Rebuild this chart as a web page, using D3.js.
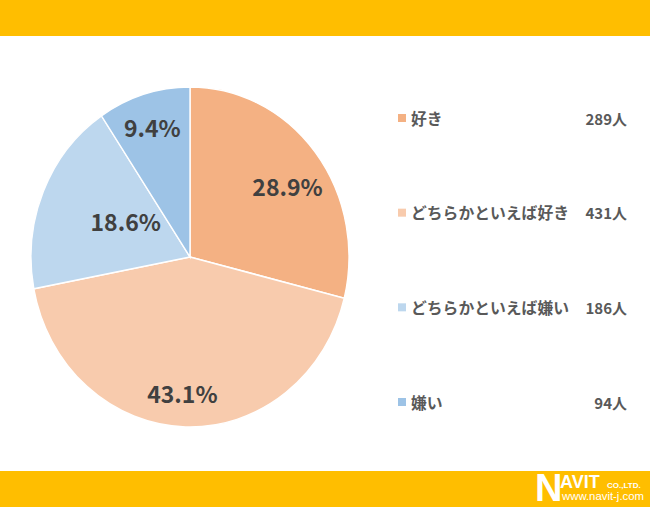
<!DOCTYPE html>
<html><head><meta charset="utf-8">
<script src="https://cdn.jsdelivr.net/npm/d3@7"></script>
<style>body{margin:0;background:#fff;}svg{display:block;}</style>
</head><body>
<script>
const categories = ["好き","どちらかといえば好き","どちらかといえば嫌い","嫌い"];
const percents = [28.9, 43.1, 18.6, 9.4];
const counts = [289, 431, 186, 94];
const colors = ["#F4B183","#F8CBAD","#BDD7EE","#9DC3E6"];
// label placement (fraction of radius, angle shift in degrees)
const labelRadius = [0.742, 0.80, 0.457, 0.80];
const labelShift = [3.7, 1.8, 5.1, -0.3];

const W = 650, H = 509;
const svg = d3.select("body").append("svg").attr("width", W).attr("height", H);
const font = "'Noto Sans CJK JP','Noto Sans',sans-serif";

// banners
svg.append("rect").attr("x",0).attr("y",0).attr("width",W).attr("height",36).attr("fill","#FFBE00");
svg.append("rect").attr("x",0).attr("y",471).attr("width",W).attr("height",36).attr("fill","#FFBE00");

// pie (slightly elliptical, like the reference)
const cx = 190, cy = 257, rx = 159, ry = 170;
const pie = d3.pie().sort(null).value(d => d)(percents);
const arc = d3.arc().innerRadius(0).outerRadius(ry);
const g = svg.append("g").attr("transform", `translate(${cx},${cy}) scale(${rx/ry},1)`);
g.selectAll("path").data(pie).join("path")
  .attr("d", arc).attr("fill", (d,i) => colors[i])
  .attr("stroke","#fff").attr("stroke-width",1.5);

// labels
const ang = (d,i) => (d.startAngle+d.endAngle)/2 + labelShift[i]*Math.PI/180;
svg.append("g").selectAll("text").data(pie).join("text")
  .attr("x", (d,i) => cx + Math.sin(ang(d,i))*rx*labelRadius[i])
  .attr("y", (d,i) => cy - Math.cos(ang(d,i))*ry*labelRadius[i])
  .attr("text-anchor","middle").attr("dominant-baseline","central")
  .attr("font-family", font).attr("font-weight","bold").attr("font-size",23)
  .attr("fill","#404040")
  .text((d,i) => percents[i].toFixed(1) + "%");

// legend
const ly = d3.scalePoint().domain(categories).range([118, 402]);
const leg = svg.append("g");
categories.forEach((c,i) => {
  const y = ly(c);
  leg.append("rect").attr("x",398).attr("y",y-4).attr("width",8).attr("height",8).attr("fill",colors[i]);
  leg.append("text").attr("x",411).attr("y",y).attr("dominant-baseline","central")
    .attr("font-family",font).attr("font-weight","bold").attr("font-size",15.8).attr("fill","#595959").text(c);
  leg.append("text").attr("x",627).attr("y",y).attr("dominant-baseline","central").attr("text-anchor","end")
    .attr("font-family",font).attr("font-weight","bold").attr("font-size",15).attr("fill","#595959").text(counts[i] + "人");
});

// logo
const logo = svg.append("g").attr("fill","#fff").attr("font-family","'Liberation Sans',Arial,sans-serif").attr("font-weight","bold");
logo.append("text").attr("x",535).attr("y",501).attr("font-size",38).text("N");
logo.append("text").attr("x",560).attr("y",488).attr("font-size",18).text("AVIT");
logo.append("text").attr("x",607).attr("y",488).attr("font-size",8).text("CO.,LTD.");
logo.append("text").attr("x",562).attr("y",500).attr("font-size",11).attr("font-weight","normal")
  .attr("textLength",82).attr("lengthAdjust","spacingAndGlyphs").text("www.navit-j.com");
</script>
</body></html>
